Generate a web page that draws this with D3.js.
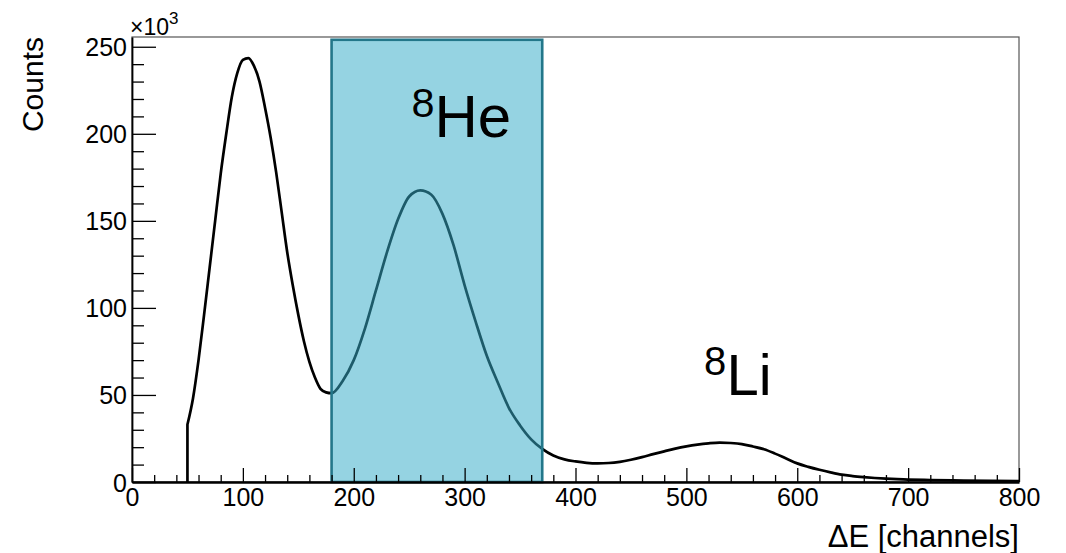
<!DOCTYPE html>
<html>
<head>
<meta charset="utf-8">
<script src="https://cdn.jsdelivr.net/npm/d3@7"></script>
<style>
  body { margin: 0; background: #fff; }
  text { font-family: "Liberation Sans", Arial, Helvetica, sans-serif; fill: #000; }
</style>
</head>
<body>
<svg width="1066" height="553"></svg>
<script>
// ΔE spectrum (counts per channel)
var channels = [50, 55, 60, 65, 70, 75, 80, 85, 90, 95, 100, 105, 110, 115, 120, 125, 130, 135, 140, 145,
    150, 155, 160, 165, 170, 175, 180, 190, 200, 210, 220, 230, 240, 250, 260, 270, 280, 290, 300,
    310, 320, 330, 340, 350, 360, 370, 380, 390, 400, 410, 420, 430, 440, 450, 460, 470, 480, 490,
    500, 510, 520, 530, 540, 550, 560, 570, 580, 590, 600, 610, 620, 630, 640, 650, 660, 670, 680,
    690, 700, 720, 750, 800];
var counts = [33000, 48000, 70000, 96000, 123000, 150000, 177000, 200000, 221000, 235000, 242500, 243500, 239000, 230000, 215000, 198000, 178000, 155000, 132000, 113000,
    96000, 81000, 69000, 60000, 53500, 51500, 51000, 58000, 70000, 88000, 110000, 132000, 151000, 164000, 167500, 165000, 154000, 136000, 113000,
    92000, 72500, 57000, 42500, 32500, 24500, 19000, 15200, 13000, 11800, 11000, 10700, 10900, 11600, 12800, 14300, 16000, 17600, 19200,
    20500, 21500, 22200, 22600, 22400, 21800, 20400, 18800, 16300, 13500, 10700, 8700, 7000, 5500, 4200, 3400, 2800, 2300, 1900,
    1600, 1400, 1100, 800, 500];

var xTicks = [0, 100, 200, 300, 400, 500, 600, 700, 800];
var yTicks = [0, 50000, 100000, 150000, 200000, 250000];

// 8He selection gate
var gateLow = 180, gateHigh = 370, gateTop = 254000;

var svg = d3.select("svg"),
    margin = {top: 37, right: 47, bottom: 71, left: 132},
    width = 1066 - margin.left - margin.right,
    height = 553 - margin.top - margin.bottom;

var x = d3.scaleLinear().domain([0, 800]).range([0, width]);
var y = d3.scaleLinear().domain([0, 255600]).range([height, 0]);

var g = svg.append("g")
    .attr("transform", "translate(" + margin.left + "," + margin.top + ")");

// frame (top / right)
g.append("rect")
    .attr("width", width)
    .attr("height", height)
    .attr("fill", "none")
    .attr("stroke", "#555")
    .attr("stroke-width", 1.2);

// histogram curve
var line = d3.line()
    .x(function (d) { return x(d[0]); })
    .y(function (d) { return y(d[1]); })
    .curve(d3.curveMonotoneX);

var pts = channels.map(function (c, i) { return [c, counts[i]]; });
var path = line(pts);
// vertical rise of the first filled bin
path = "M" + x(channels[0]) + "," + y(0) + "L" + path.slice(1);

g.append("path")
    .attr("d", path)
    .attr("fill", "none")
    .attr("stroke", "#000")
    .attr("stroke-width", 2.7)
    .attr("stroke-linejoin", "round");

// gate box, drawn over the curve
g.append("rect")
    .attr("x", x(gateLow))
    .attr("y", y(gateTop))
    .attr("width", x(gateHigh) - x(gateLow))
    .attr("height", y(0) - y(gateTop))
    .attr("fill", "rgb(55,172,200)")
    .attr("fill-opacity", 0.53)
    .attr("stroke", "#23778a")
    .attr("stroke-width", 2.6);

// axes
var xMinor = d3.range(0, 801, 20).filter(function (v) { return v % 100 !== 0; });
var yMinor = d3.range(0, 255001, 10000).filter(function (v) { return v % 50000 !== 0; });

g.append("g")
    .attr("transform", "translate(0," + height + ")")
    .call(d3.axisBottom(x).tickValues(xMinor).tickSize(-7).tickFormat("").tickSizeOuter(0))
    .call(function (a) { a.select(".domain").remove(); });

var xAxis = g.append("g")
    .attr("transform", "translate(0," + height + ")")
    .call(d3.axisBottom(x).tickValues(xTicks).tickSize(-14).tickSizeOuter(0).tickPadding(6));

g.append("g")
    .call(d3.axisLeft(y).tickValues(yMinor).tickSize(-12).tickFormat("").tickSizeOuter(0))
    .call(function (a) { a.select(".domain").remove(); });

var yAxis = g.append("g")
    .call(d3.axisLeft(y).tickValues(yTicks).tickSize(-24).tickSizeOuter(0).tickPadding(5)
        .tickFormat(function (d) { return d / 1000; }));

svg.selectAll(".tick line").attr("stroke", "#000").attr("stroke-width", 1.3);
xAxis.select(".domain").attr("stroke", "#000").attr("stroke-width", 2.5);
yAxis.select(".domain").attr("stroke", "#000").attr("stroke-width", 1.8);
svg.selectAll(".tick text")
    .attr("font-family", "Liberation Sans, Arial, sans-serif")
    .attr("font-size", 25)
    .attr("fill", "#000");
xAxis.selectAll(".tick text").attr("dy", "0.71em");
yAxis.selectAll(".tick text").attr("dy", "0.36em");

// exponent
var expo = svg.append("text")
    .attr("x", margin.left - 2)
    .attr("y", 35)
    .attr("font-size", 23);
expo.append("tspan").text("\u00d710");
expo.append("tspan").attr("font-size", 17).attr("dy", -11).text("3");

// axis titles
svg.append("text")
    .attr("transform", "translate(43," + margin.top + ") rotate(-90)")
    .attr("text-anchor", "end")
    .attr("font-size", 30)
    .text("Counts");

svg.append("text")
    .attr("x", margin.left + width)
    .attr("y", 547)
    .attr("text-anchor", "end")
    .attr("font-size", 31)
    .text("\u0394E [channels]");

// isotope labels
function isotope(mass, name, cx, cy, size) {
    var t = g.append("text")
        .attr("x", x(cx))
        .attr("y", y(cy))
        .attr("font-size", size);
    t.append("tspan").attr("font-size", size * 0.69).attr("dy", -20).text(mass);
    t.append("tspan").attr("dy", 20).text(name);
}
isotope("8", "He", 252, 198000, 60);
isotope("8", "Li", 516, 50000, 58);
</script>
</body>
</html>
